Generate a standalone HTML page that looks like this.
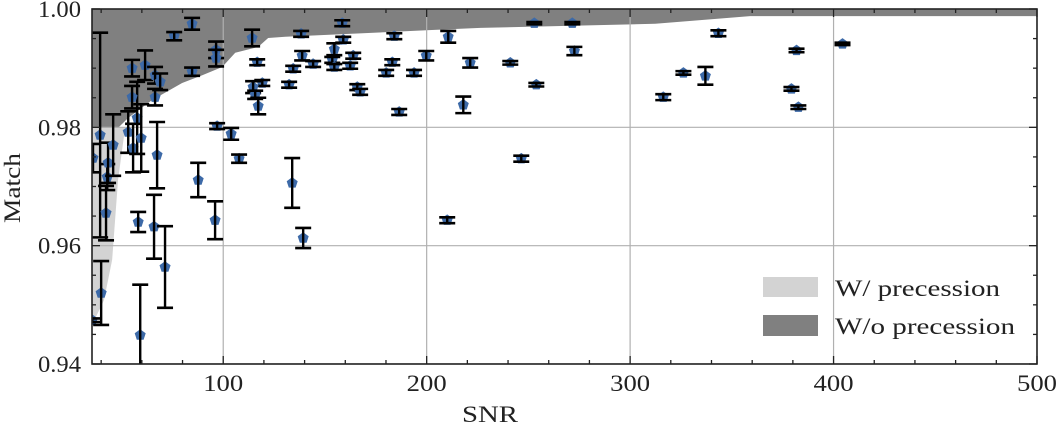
<!DOCTYPE html>
<html><head><meta charset="utf-8"><style>
body{margin:0;background:#fff;}
svg{display:block;font-family:"Liberation Serif",serif;}
</style></head><body>
<svg id="chart" width="1057" height="428" xmlns="http://www.w3.org/2000/svg"></svg>
<script>
const snr=[35.6,40.0,39.5,36.0,42.4,43.0,43.4,45.9,53.3,55.7,57.7,59.7,55.2,55.2,61.6,66.5,69.0,66.5,67.5,58.2,66.0,71.4,59.2,75.9,84.7,84.7,87.7,96.0,96.5,96.5,97.0,103.9,107.8,114.2,116.7,119.2,114.7,115.7,117.2,132.4,134.4,138.3,138.8,144.2,153.6,154.6,154.6,158.5,159.0,162.4,163.9,165.9,167.3,180.1,183.1,184.1,186.5,193.8,199.8,210.6,210.1,218.0,221.4,133.9,139.3,241.1,252.9,253.9,271.6,272.6,246.5,316.3,326.2,337.0,343.4,379.3,381.8,382.7,404.4];
const match=[.9474,.9520,.9787,.9748,.9655,.9716,.9740,.9770,.9792,.9765,.9816,.9782,.9900,.9851,.9905,.9888,.9877,.9851,.9753,.9640,.9632,.9564,.9449,.9954,.9975,.9894,.9711,.9643,.9931,.9917,.9802,.9789,.9747,.9951,.9910,.9875,.9868,.9855,.9836,.9872,.9899,.9958,.9921,.9907,.9914,.9932,.9902,.9976,.9948,.9904,.9921,.9868,.9860,.9892,.9910,.9954,.9826,.9892,.9921,.9953,.9643,.9838,.9909,.9706,.9613,.9909,.9976,.9872,.9976,.9929,.9747,.9851,.9892,.9887,.9959,.9865,.9930,.9834,.9941];
const err=[.0003,.0054,.0173,.0024,.0046,.0022,.0034,.0052,.0035,.0041,.0061,.0057,.0014,.0019,.0025,.0014,.0014,.0014,.0056,.0017,.0054,.0069,.0085,.0007,.001,.0007,.0029,.0032,.0014,.0014,.0005,.001,.0007,.0014,.0005,.0005,.001,.0007,.0014,.0005,.0005,.0005,.0008,.0005,.0005,.001,.0005,.0005,.0005,.0005,.0005,.0005,.0005,.0005,.0005,.0005,.0005,.0005,.0008,.001,.0005,.0014,.0008,.0042,.0017,.0003,.0002,.0003,.0002,.0007,.0005,.0005,.0003,.0015,.0005,.0003,.0003,.0003,.0002];
const darkSnr=[35.5,48.3,53.3,65,79.8,89.7,99.5,105.9,117.2,122.1,130.5,199.8,226.4,312.4,359,500];
const darkMatch=[.9799,.9799,.9816,.9846,.9875,.9888,.9902,.9926,.9936,.9951,.9953,.9964,.9968,.9975,.9988,.9988];
const lightSnr=[35.5,41.4,45.4,48.3,51.8];
const lightMatch=[.9466,.9508,.9576,.9711,.98];
const xTicks=[100,200,300,400,500];
const yTicks=[0.94,0.96,0.98,1.00];

const NS="http://www.w3.org/2000/svg";
const svg=document.getElementById('chart');
const L=92,R=1037,T=9,B=364,X0=35.5,X1=500,Y0=0.94,Y1=1.0;
const sx=v=>L+(v-X0)/(X1-X0)*(R-L);
const sy=v=>B-(v-Y0)/(Y1-Y0)*(B-T);
function mk(tag,attrs,parent){const e=document.createElementNS(NS,tag);for(const k in attrs)e.setAttribute(k,attrs[k]);(parent||svg).appendChild(e);return e;}
const defs=mk('defs',{});const cp=mk('clipPath',{id:'clip'},defs);mk('rect',{x:L,y:T,width:R-L,height:B-T},cp);
const plot=mk('g',{'clip-path':'url(#clip)'});


let lp=lightSnr.map((s,i)=>sx(s)+','+sy(lightMatch[i])).join(' ')+' '+sx(X0)+','+sy(0.98);
const light=mk('polygon',{points:lp,fill:'#d3d3d3'},plot);


let dp=darkSnr.map((s,i)=>sx(s)+','+sy(darkMatch[i])).join(' ')+' '+sx(X1)+','+sy(1.0)+' '+sx(X0)+','+sy(1.0);
const dark=mk('polygon',{points:dp,fill:'#808080'},plot);


xTicks.forEach(t=>{const g=mk('line',{x1:sx(t),x2:sx(t),y1:T,y2:B,stroke:'#b0b0b0','stroke-width':1.2},plot);});
yTicks.forEach(t=>{const g=mk('line',{x1:L,x2:R,y1:sy(t),y2:sy(t),stroke:'#b0b0b0','stroke-width':1.2},plot);});
snr.forEach((s,i)=>{
  const x=sx(s),y=sy(match[i]),y1=sy(match[i]+err[i]),y2=sy(match[i]-err[i]);
  const g=mk('g',{},plot);
  
  
  const r=5.8;let pts=[];for(let k=0;k<5;k++){const a=-Math.PI/2+k*2*Math.PI/5;pts.push((x+r*Math.cos(a)).toFixed(1)+','+(y+r*Math.sin(a)).toFixed(1));}
  mk('polygon',{points:pts.join(' '),fill:'#3d6aa8'},g);
  mk('line',{x1:x,x2:x,y1:y1,y2:y2,stroke:'#000','stroke-width':2.4},g);
  mk('line',{x1:x-8,x2:x+8,y1:y1,y2:y1,stroke:'#000','stroke-width':2.6},g);
  mk('line',{x1:x-8,x2:x+8,y1:y2,y2:y2,stroke:'#000','stroke-width':2.6},g);
});
const fr=mk('rect',{x:L,y:T,width:R-L,height:B-T,fill:'none',stroke:'#222','stroke-width':1.6});

for(let v=40;v<=500;v+=20){const x=sx(v);const maj=v%100===0;const l=maj?8:4;
  mk('line',{x1:x,x2:x,y1:B,y2:B-l,stroke:'#222','stroke-width':1.3});
  mk('line',{x1:x,x2:x,y1:T,y2:T+l,stroke:'#222','stroke-width':1.3});}
for(let v=0.94;v<=1.0001;v+=0.005){const y=sy(v);const maj=Math.abs(v*100-Math.round(v*100))<1e-6&&Math.round(v*100)%2===0;const l=maj?8:4;
  mk('line',{x1:L,x2:L+l,y1:y,y2:y,stroke:'#222','stroke-width':1.3});
  mk('line',{x1:R,x2:R-l,y1:y,y2:y,stroke:'#222','stroke-width':1.3});}
xTicks.forEach(t=>{const e=mk('text',{x:sx(t),y:391,'text-anchor':'middle','font-size':23,fill:'#222',textLength:40,lengthAdjust:'spacingAndGlyphs'});e.textContent=t;});
yTicks.forEach(t=>{const e=mk('text',{x:81,y:sy(t)+8,'text-anchor':'end','font-size':23,fill:'#222',textLength:43,lengthAdjust:'spacingAndGlyphs'});e.textContent=t.toFixed(2);});
</script>
<svg style="position:absolute;left:0;top:0" width="1057" height="428" xmlns="http://www.w3.org/2000/svg" font-family="Liberation Serif, serif">
<text x="462" y="422" font-size="23" fill="#222" textLength="56" lengthAdjust="spacingAndGlyphs">SNR</text>
<text x="20" y="188" text-anchor="middle" font-size="23" fill="#222" textLength="70" lengthAdjust="spacingAndGlyphs" transform="rotate(-90 20 188)">Match</text>
<g>
<rect x="763" y="277" width="55" height="20" fill="#d3d3d3"/>
<text x="835" y="296" font-size="23" fill="#222" textLength="165" lengthAdjust="spacingAndGlyphs">W/ precession</text>
<text x="835" y="334" font-size="23" fill="#222" textLength="180" lengthAdjust="spacingAndGlyphs">W/o precession</text>
<rect x="763" y="315" width="55" height="21" fill="#808080"/>
</g>
</svg>
</body></html>
